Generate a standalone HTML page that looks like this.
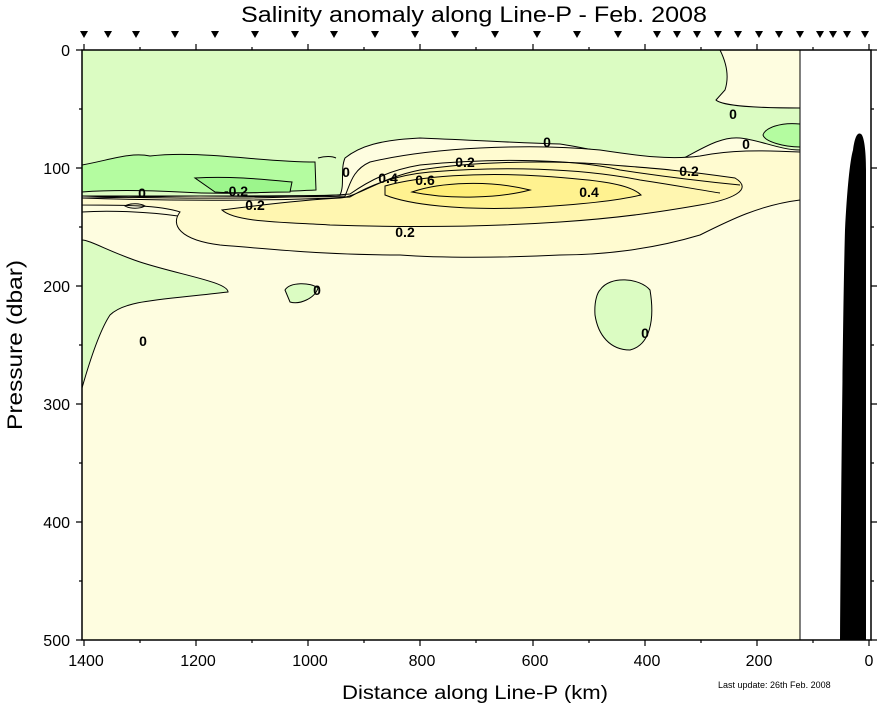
<!DOCTYPE html>
<html><head><style>body{margin:0;background:#fff}svg{display:block}text{font-family:"Liberation Sans",sans-serif}</style></head><body>
<svg width="878" height="708" viewBox="0 0 878 708" xmlns="http://www.w3.org/2000/svg">
<text x="241" y="22" font-size="22" textLength="466" lengthAdjust="spacingAndGlyphs">Salinity anomaly along Line-P - Feb. 2008</text>
<g fill="#000">
<path id="t" d="M-4,31 h8 l-4,7z" transform="translate(84,0)"/>
<use href="#t" x="24"/><use href="#t" x="52"/><use href="#t" x="91"/><use href="#t" x="131"/><use href="#t" x="171"/><use href="#t" x="211"/><use href="#t" x="250"/><use href="#t" x="291"/><use href="#t" x="331"/><use href="#t" x="371"/><use href="#t" x="411"/><use href="#t" x="453"/><use href="#t" x="493"/><use href="#t" x="534"/><use href="#t" x="573"/><use href="#t" x="593"/><use href="#t" x="613"/><use href="#t" x="634"/><use href="#t" x="654"/><use href="#t" x="675"/><use href="#t" x="695"/><use href="#t" x="716"/><use href="#t" x="736"/><use href="#t" x="749"/><use href="#t" x="763"/><use href="#t" x="781"/>
</g>
<clipPath id="c"><rect x="82" y="50" width="718" height="590"/></clipPath>
<rect x="82" y="50" width="718" height="590" fill="#fefde0"/>
<g clip-path="url(#c)" stroke="#000" stroke-width="1">
<path fill="#dbfcc2" d="M82,50 H720 C725,60 730,75 725,90 L716,100 C722,106 760,108 800,108 V150 C780,150 760,140 740,138 C720,136 700,150 680,160 C640,162 600,150 560,144 C520,143 470,140 420,138 C380,140 360,146 345,158 C340,170 345,185 340,195 C300,196 250,196 200,196 C170,196 120,196 82,196 Z"/>
<path fill="#b4fca0" d="M82,165 C110,160 130,152 150,156 C200,150 260,162 315,162 L316,190 C270,192 230,195 180,192 C140,190 110,190 82,192 Z"/>
<path fill="#9cf58c" d="M195,178 C230,176 260,179 292,182 L290,192 C260,192 240,194 215,192 Z"/>
<path fill="#b4fca0" d="M800,124 C780,122 765,128 763,135 C765,142 785,147 800,147 Z"/>
<path fill="#fffbd0" d="M82,198 C120,198 160,196 200,196 C250,196 300,198 345,196 C350,185 352,170 370,162 C400,155 440,150 480,148 C520,146 560,146 600,150 C640,156 670,160 700,156 C730,150 760,150 800,152 V200 C760,205 730,220 700,235 C650,250 600,255 560,255 C500,258 440,258 400,255 C330,255 280,250 220,245 C180,240 170,225 180,212 C160,205 120,205 82,205 Z"/>
<path fill="#fff6b0" d="M222,210 C260,205 300,200 340,198 C360,196 380,178 420,170 C470,162 540,160 600,164 C650,168 680,170 735,178 C755,190 730,200 700,205 C660,212 620,218 560,222 C500,226 420,228 330,225 C280,222 235,222 222,210 Z"/>
<path fill="#fff290" d="M385,186 C420,176 480,172 540,176 C600,180 630,184 641,195 C620,200 580,205 520,208 C460,210 410,205 385,195 Z"/>
<path fill="#ffee78" d="M412,192 C440,182 490,180 530,190 C500,198 450,200 412,192 Z"/>
<path fill="#dbfcc2" d="M82,388 C90,360 100,330 110,315 C125,300 160,300 228,292 C228,282 180,275 140,262 C110,252 90,240 82,240 Z"/>
<path fill="#dbfcc2" d="M285,290 C290,282 310,282 318,288 C315,298 300,305 290,302 Z"/>
<path fill="#dbfcc2" d="M600,290 C610,275 640,278 650,290 C655,320 650,345 630,350 C610,350 598,335 595,315 C594,300 598,292 600,290 Z"/>
<path fill="#dbfcc2" d="M200,700 C210,682 240,672 290,675 C340,676 370,682 380,700 Z"/>
<path fill="none" d="M82,196 C200,200 300,198 350,194 C370,180 390,170 420,165 C500,157 580,160 620,170 C660,176 690,180 740,185"/>
<path fill="none" d="M82,198 C200,202 300,200 350,197 C370,185 395,175 430,172 C500,166 580,168 640,180 C680,186 700,190 720,193"/>
<path fill="none" d="M318,158 C325,156 332,156 336,158"/>
<path fill="none" d="M125,206 C130,203 140,203 145,206 C140,209 130,209 125,206 Z"/>
<path fill="none" d="M82,212 C110,210 150,212 178,216"/>
</g>
<g font-size="14" font-weight="bold" text-anchor="middle">
<text x="142" y="198">0</text><text x="236" y="196">-0.2</text><text x="255" y="210">0.2</text><text x="346" y="177">0</text>
<text x="388" y="183">0.4</text><text x="425" y="185">0.6</text><text x="465" y="167">0.2</text><text x="547" y="147">0</text>
<text x="589" y="197">0.4</text><text x="689" y="176">0.2</text><text x="733" y="119">0</text><text x="746" y="149">0</text>
<text x="405" y="237">0.2</text><text x="317" y="295">0</text><text x="143" y="346">0</text><text x="645" y="338">0</text>
</g>
<path fill="#000" d="M840,640 C841,500 843,300 845,230 C847,190 850,160 853,150 C855,135 858,132 861,134 C864,136 866,150 866,170 V640 Z"/>
<g stroke="#000" stroke-width="1.5" fill="none">
<rect x="82" y="50" width="789" height="590"/>
<line x1="800" y1="50" x2="800" y2="640" stroke-width="1"/>
</g>
<g stroke="#000" stroke-width="1.2">
<path d="M84,640v6M196,640v6M308,640v6M420,640v6M533,640v6M645,640v6M757,640v6M869,640v6
M140,640v3M252,640v3M364,640v3M476,640v3M589,640v3M701,640v3M813,640v3
M84,50v-6M196,50v-6M308,50v-6M420,50v-6M533,50v-6M645,50v-6M757,50v-6M869,50v-6
M140,50v-3M252,50v-3M364,50v-3M476,50v-3M589,50v-3M701,50v-3M813,50v-3
M82,50h-6M82,168h-6M82,286h-6M82,404h-6M82,522h-6M82,640h-6
M82,109h-3M82,227h-3M82,345h-3M82,463h-3M82,581h-3
M871,50h6M871,168h6M871,286h6M871,404h6M871,522h6M871,640h6
M871,109h3M871,227h3M871,345h3M871,463h3M871,581h3"/>
</g>
<g font-size="16" text-anchor="end">
<text x="70" y="56">0</text><text x="70" y="174">100</text><text x="70" y="292">200</text><text x="70" y="410">300</text><text x="70" y="528">400</text><text x="70" y="646">500</text>
</g>
<g font-size="16" text-anchor="middle">
<text x="86" y="666">1400</text><text x="198" y="666">1200</text><text x="310" y="666">1000</text><text x="422" y="666">800</text><text x="535" y="666">600</text><text x="647" y="666">400</text><text x="759" y="666">200</text><text x="869" y="666">0</text>
</g>
<text x="342" y="699" font-size="19" textLength="266" lengthAdjust="spacingAndGlyphs">Distance along Line-P (km)</text>
<text transform="translate(22,430) rotate(-90)" font-size="21" textLength="170" lengthAdjust="spacingAndGlyphs">Pressure (dbar)</text>
<text x="718" y="688" font-size="9">Last update: 26th Feb. 2008</text>
</svg>
</body></html>
